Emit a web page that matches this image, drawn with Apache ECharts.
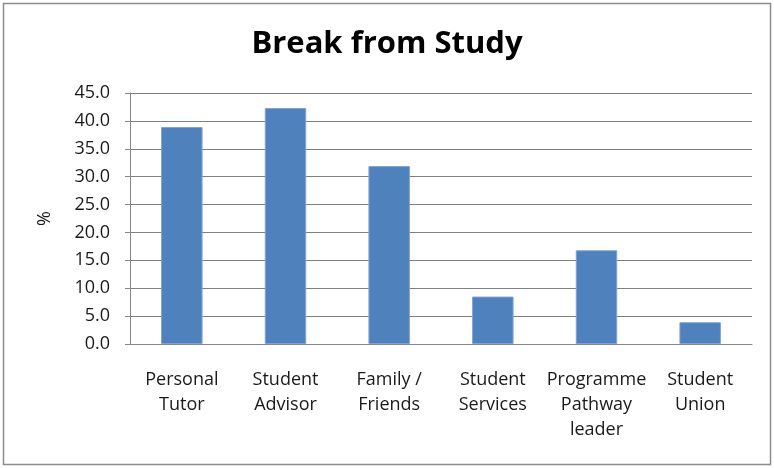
<!DOCTYPE html>
<html>
<head>
<meta charset="utf-8">
<script src="https://cdn.jsdelivr.net/npm/echarts@6/dist/echarts.min.js"></script>
<style>
  html, body { margin: 0; padding: 0; background: #fff; }
  #chart { width: 774px; height: 468px; }
</style>
</head>
<body>
<div id="chart"></div>
<script>
// 数据
var categories = ['Personal\nTutor', 'Student\nAdvisor', 'Family /\nFriends', 'Student\nServices', 'Programme\nPathway\nleader', 'Student\nUnion'];
var values = [38.9, 42.3, 31.9, 8.5, 16.8, 3.9];
var yTicks = [0, 5, 10, 15, 20, 25, 30, 35, 40, 45];

var myChart = echarts.init(document.getElementById('chart'));
var option = {
  animation: false,
  graphic: [{
    type: 'rect',
    shape: { x: 3.5, y: 3.5, width: 767, height: 461 },
    style: { fill: 'none', stroke: '#8c8c8c', lineWidth: 1.5 },
    silent: true
  }],
  title: {
    text: 'Break from Study',
    left: 'center',
    top: 24,
    textStyle: { fontFamily: 'Open Sans', fontWeight: 'bold', fontSize: 31, color: '#000' }
  },
  grid: { left: 130, right: 22, top: 93, bottom: 124 },
  xAxis: {
    type: 'category',
    data: categories,
    axisLine: { lineStyle: { color: '#888', width: 1 } },
    axisTick: { show: false },
    axisLabel: {
      interval: 0,
      color: '#1a1a1a',
      fontFamily: 'Open Sans',
      fontSize: 18,
      lineHeight: 25,
      margin: 23
    }
  },
  yAxis: {
    type: 'value',
    min: yTicks[0],
    max: yTicks[yTicks.length - 1],
    interval: 5,
    name: '%',
    nameLocation: 'middle',
    nameGap: 76,
    nameRotate: 90,
    nameTextStyle: { color: '#1a1a1a', fontFamily: 'Open Sans', fontSize: 18 },
    axisLine: { show: true, lineStyle: { color: '#888', width: 1 } },
    axisTick: { show: true, length: 5, lineStyle: { color: '#888' } },
    splitLine: { lineStyle: { color: '#808080', width: 1 } },
    axisLabel: {
      color: '#1a1a1a',
      fontFamily: 'Open Sans',
      fontSize: 18,
      margin: 20,
      formatter: function (v) { return v.toFixed(1); }
    }
  },
  series: [{
    type: 'bar',
    data: values,
    barWidth: '40%',
    itemStyle: { color: '#4F81BD', borderColor: '#7fa3d3', borderWidth: 1 }
  }]
};
myChart.setOption(option);
</script>
</body>
</html>
